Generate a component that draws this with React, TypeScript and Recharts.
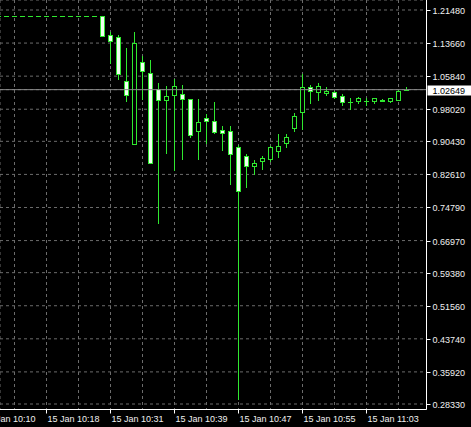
import React from 'react';
import {
  Bar,
  CartesianGrid,
  ComposedChart,
  ReferenceLine,
  XAxis,
  YAxis,
} from 'recharts';

// M1 bars, index 0 is the partly hidden bar at the left edge
const opens = [
  1.1995, 1.1995, 1.1995, 1.1995, 1.1995, 1.1995, 1.1995, 1.1995, 1.1995, 1.1995, 1.1995, 1.1995, 1.1995,
  1.1995, 1.1557, 1.1503, 1.0469, 0.8973, 1.0919, 1.0651, 1.0273, 1.0013, 1.0131, 1.0162, 1.0037, 0.9294,
  0.9588, 0.9517, 0.9311, 0.9299, 0.8902, 0.8703, 0.8467, 0.8571, 0.8618, 0.8815, 0.9011, 0.9351, 0.9737,
  1.0321, 1.0216, 1.0193, 1.0216, 1.0115, 0.998, 0.9997, 0.9997, 1.0004, 1.0015, 1.0004, 1.0027, 1.0262,
];
const highs = [
  1.1995, 1.1995, 1.1995, 1.1995, 1.1995, 1.1995, 1.1995, 1.1995, 1.1995, 1.1995, 1.1995, 1.1995, 1.1995,
  1.1995, 1.1635, 1.1564, 1.1243, 1.1621, 1.106, 1.0966, 1.0415, 1.0351, 1.051, 1.0375, 1.004, 1.0037,
  0.9689, 0.9966, 0.9406, 0.9398, 0.8945, 0.8744, 0.8602, 0.8696, 0.8933, 0.9216, 0.9216, 0.9706, 1.0635,
  1.0375, 1.0415, 1.0335, 1.024, 1.0162, 1.006, 1.0084, 1.006, 1.0068, 1.0044, 1.006, 1.0257, 1.0316,
];
const lows = [
  1.1995, 1.1995, 1.1995, 1.1995, 1.1995, 1.1995, 1.1995, 1.1995, 1.1995, 1.1995, 1.1995, 1.1995, 1.1995,
  1.153, 1.0888, 1.051, 1.0004, 0.897, 1.0044, 0.852, 0.7119, 0.8774, 0.8365, 0.8618, 0.9138, 0.8614,
  0.8992, 0.9233, 0.8838, 0.8034, 0.2944, 0.797, 0.8271, 0.8382, 0.8585, 0.8666, 0.8902, 0.9294, 0.9327,
  0.9956, 1.002, 1.0138, 1.006, 0.9902, 0.9807, 0.9942, 0.9902, 0.9942, 1.0, 0.9966, 1.0013, 1.025,
];
const closes = [
  1.1995, 1.1995, 1.1995, 1.1995, 1.1995, 1.1995, 1.1995, 1.1995, 1.1995, 1.1995, 1.1995, 1.1995, 1.1995,
  1.1533, 1.1408, 1.0635, 1.0131, 1.1361, 1.0699, 0.8524, 1.002, 1.0108, 1.0351, 1.0037, 0.9181, 0.9493,
  0.9531, 0.9252, 0.9247, 0.8732, 0.7876, 0.8467, 0.8524, 0.8642, 0.8902, 0.8933, 0.9138, 0.9642, 1.0321,
  1.024, 1.0358, 1.023, 1.0084, 0.998, 0.9978, 1.006, 0.9995, 1.006, 1.0005, 1.006, 1.0226, 1.02649,
];

const bid = 1.02649;
const priceTicks = [
  1.2148, 1.1366, 1.0584, 0.9802, 0.9043, 0.8261, 0.7479, 0.6697, 0.5938, 0.5156, 0.4374, 0.3592, 0.2833,
];
const gridTicks = [-2, 2, 6, 10, 14, 18, 22, 26, 30, 34, 38, 42, 46, 50];
const timeTickIndex = [-2, 6, 14, 22, 30, 38, 46];
const timeLabels = [
  '15 Jan 10:10',
  '15 Jan 10:18',
  '15 Jan 10:31',
  '15 Jan 10:39',
  '15 Jan 10:47',
  '15 Jan 10:55',
  '15 Jan 11:03',
];

const data = opens.map((o, i) => ({
  i,
  o,
  h: highs[i],
  l: lows[i],
  c: closes[i],
  range: [lows[i], highs[i]],
}));

const GREEN = '#2fe82f';
const BEAR_FILL = '#f2fff2';
const FONT = "'Liberation Sans', Arial, sans-serif";

/** Candle drawn inside the [low, high] bar rect handed over by Recharts. */
function Candle(props: any) {
  const { x, y, width, height, payload } = props;
  const { o, h, l, c } = payload;
  const cx = Math.floor(x + width / 2) + 0.5;
  const k = h > l ? height / (h - l) : 0;
  const yOf = (v: number) => y + (h - v) * k;
  const top = Math.round(yOf(Math.max(o, c))) + 0.5;
  const bot = Math.round(yOf(Math.min(o, c))) + 0.5;
  const bull = c >= o;
  return (
    <g>
      {h > l && (
        <line
          x1={cx}
          x2={cx}
          y1={Math.round(yOf(h))}
          y2={Math.round(yOf(l)) + 1}
          stroke={GREEN}
          strokeWidth={1}
        />
      )}
      {bot - top < 1 ? (
        <line x1={cx - 2.5} x2={cx + 2.5} y1={top} y2={top} stroke={GREEN} strokeWidth={1} />
      ) : (
        <rect
          x={cx - 2}
          y={top}
          width={4}
          height={bot - top}
          fill={bull ? '#000' : BEAR_FILL}
          stroke={GREEN}
          strokeWidth={1}
        />
      )}
    </g>
  );
}

function TimeTick(props: any) {
  const { x, y, payload } = props;
  const idx = timeTickIndex.indexOf(payload.value);
  if (idx < 0) return <g />;
  return (
    <g>
      <line x1={x} x2={x} y1={y} y2={y + 4} stroke="#fff" />
      <text x={x + 1} y={y + 12.5} fill="#f0f0f0" fontSize={9} fontFamily={FONT}>
        {timeLabels[idx]}
      </text>
    </g>
  );
}

function PriceTick(props: any) {
  const { x, y, payload } = props;
  const yy = Math.round(y) + 0.5;
  if (payload.value === bid) {
    return (
      <g>
        <rect x={x + 1} y={yy - 5} width={44} height={10} fill="#fff" />
        <text x={x + 6} y={yy + 3.5} fill="#000" fontSize={9} fontFamily={FONT}>
          {bid.toFixed(5)}
        </text>
      </g>
    );
  }
  return (
    <g>
      <line x1={x} x2={x + 4} y1={yy} y2={yy} stroke="#fff" />
      <text x={x + 6} y={yy + 3.5} fill="#f0f0f0" fontSize={9} fontFamily={FONT}>
        {payload.value.toFixed(5)}
      </text>
    </g>
  );
}

export default function App() {
  return (
    <div style={{ position: 'absolute', left: 0, top: 0, width: 471, height: 427, background: '#000' }}>
      <ComposedChart
        width={471}
        height={427}
        data={data}
        margin={{ top: 0, right: 0, bottom: 0, left: 0 }}
      >
        <CartesianGrid stroke="#6c6c6c" strokeDasharray="3 3" />
        <XAxis
          dataKey="i"
          type="number"
          domain={[0.1875, 53.5]}
          allowDataOverflow
          ticks={gridTicks}
          interval={0}
          height={17.5}
          tickSize={0}
          tickMargin={0}
          tickLine={false}
          axisLine={{ stroke: '#fff' }}
          tick={(p: any) => <TimeTick {...p} />}
        />
        <YAxis
          orientation="right"
          type="number"
          domain={[0.2703, 1.23844]}
          allowDataOverflow
          ticks={[...priceTicks, bid]}
          interval={0}
          width={44.5}
          tickSize={0}
          tickMargin={0}
          tickLine={false}
          axisLine={{ stroke: '#fff' }}
          tick={(p: any) => <PriceTick {...p} />}
        />
        <ReferenceLine y={bid} stroke="#8a8a8a" strokeWidth={1} />
        <Bar dataKey="range" barSize={5} shape={Candle} isAnimationActive={false} />
      </ComposedChart>
    </div>
  );
}
